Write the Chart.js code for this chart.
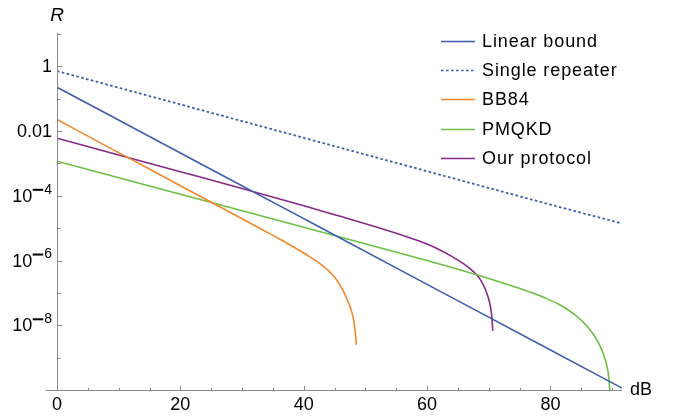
<!DOCTYPE html>
<html>
<head>
<meta charset="utf-8">
<script src="https://cdn.jsdelivr.net/npm/chart.js@4/dist/chart.umd.min.js"></script>
<style>
html,body{margin:0;padding:0;background:#fff;}
#c{display:block;}
</style>
</head>
<body>
<canvas id="c" width="678" height="418"></canvas>
<script>
// ---- data ----
const seriesLabels = ['Linear bound', 'Single repeater', 'BB84', 'PMQKD', 'Our protocol'];

const linearDb   = [0, 20, 40, 60, 80, 91.6];
const linearRate = [0.226, 2.11e-3, 1.97e-5, 1.84e-7, 1.72e-9, 1.15e-10];

const repeaterDb   = [0, 20, 40, 60, 80, 91.6];
const repeaterRate = [0.718, 0.0667, 6.19e-3, 5.75e-4, 5.35e-5, 1.4e-5];

const bb84Db   = [0, 10, 20, 30, 33, 36, 38, 40, 41, 42, 43, 44, 45, 45.5, 46, 46.5, 47, 47.5, 47.8, 48, 48.2, 48.35, 48.45, 48.52];
const bb84Rate = [0.0227, 2.16e-3, 2.05e-4, 1.95e-5, 9.62e-6, 4.70e-6, 2.86e-6, 1.71e-6, 1.30e-6, 9.75e-7, 7.10e-7, 4.89e-7, 3.07e-7, 2.27e-7, 1.60e-7, 1.057e-7, 6.50e-8, 3.72e-8, 2.52e-8, 1.78e-8, 1.07e-8, 6.38e-9, 3.93e-9, 2.49e-9];

const pmqkdDb   = [0, 20, 40, 60, 65, 70, 74, 77, 79.5, 81.5, 83, 84.5, 85.5, 86.5, 87.5, 88.2, 88.8, 89.2, 89.45, 89.62];
const pmqkdRate = [1.175e-3, 1.12e-4, 1.07e-5, 1.0e-6, 5.37e-7, 2.79e-7, 1.585e-7, 1.007e-7, 6.54e-8, 4.30e-8, 2.86e-8, 1.74e-8, 1.147e-8, 6.89e-9, 3.61e-9, 1.96e-9, 9.8e-10, 5.0e-10, 2.56e-10, 1.0e-10];

const oursDb   = [0, 10, 20, 30, 40, 45, 50, 55, 58, 60, 62, 64, 66, 67.5, 68.5, 69.3, 69.9, 70.3, 70.5, 70.65];
const oursRate = [6.03e-3, 1.83e-3, 5.57e-4, 1.69e-4, 4.92e-5, 2.62e-5, 1.38e-5, 7.02e-6, 4.48e-6, 3.22e-6, 2.16e-6, 1.35e-6, 7.72e-7, 4.57e-7, 2.81e-7, 1.50e-7, 7.35e-8, 3.51e-8, 1.80e-8, 6.72e-9];

const xTickValues = [0, 5, 10, 15, 20, 25, 30, 35, 40, 45, 50, 55, 60, 65, 70, 75, 80, 85, 90];
const xTickLabels = ['0', '', '', '', '20', '', '', '', '40', '', '', '', '60', '', '', '', '80', '', ''];
const yTickValues = [10, 1, 0.1, 0.01, 1e-3, 1e-4, 1e-5, 1e-6, 1e-7, 1e-8, 1e-9];
const yTickLabels = ['', '1', '', '0.01', '', '10\u207B\u2074', '', '10\u207B\u2076', '', '10\u207B\u2078', ''];

const colors = ['#3F5DAE', '#3F5DAE', '#F4872C', '#6DBE45', '#86298B'];
const dashes = [[], [2.6, 2.4], [], [], []];

const pts = (xs, ys) => xs.map((x, i) => ({x: x, y: ys[i]}));
const allData = [pts(linearDb, linearRate), pts(repeaterDb, repeaterRate), pts(bb84Db, bb84Rate), pts(pmqkdDb, pmqkdRate), pts(oursDb, oursRate)];

const FONT = '"Liberation Sans", Arial, sans-serif';
const SUP = {'\u207B': '\u2212', '\u2070': '0', '\u00B9': '1', '\u00B2': '2', '\u00B3': '3', '\u2074': '4', '\u2075': '5', '\u2076': '6', '\u2077': '7', '\u2078': '8', '\u2079': '9'};

const decor = {
  id: 'decor',
  afterDraw(chart) {
    const ctx = chart.ctx;
    const xs = chart.scales.x, ys = chart.scales.y;
    const left = Math.round(xs.getPixelForValue(0)) + 0.5;
    const bottom = Math.round(ys.getPixelForValue(1e-10)) + 0.5;
    const top = ys.getPixelForValue(10) - 1;
    const right = xs.getPixelForValue(91.6);
    ctx.save();
    ctx.strokeStyle = '#8a8a8a';
    ctx.lineWidth = 1;
    ctx.beginPath();
    ctx.moveTo(left, top); ctx.lineTo(left, bottom);
    ctx.moveTo(left - 12, bottom); ctx.lineTo(right, bottom);
    xTickValues.forEach((v, i) => {
      if (v === 0) return;
      const px = Math.round(xs.getPixelForValue(v)) + 0.5;
      const len = xTickLabels[i] !== '' ? 4.5 : 2.5;
      ctx.moveTo(px, bottom); ctx.lineTo(px, bottom - len);
    });
    yTickValues.forEach((v, i) => {
      const py = Math.round(ys.getPixelForValue(v)) + 0.5;
      const len = yTickLabels[i] !== '' ? 5 : 3;
      ctx.moveTo(left, py); ctx.lineTo(left + len, py);
    });
    ctx.stroke();

    // y tick labels (with raised exponents)
    ctx.fillStyle = '#000';
    ctx.textBaseline = 'middle';
    yTickValues.forEach((v, i) => {
      const lab = yTickLabels[i];
      if (!lab) return;
      const py = ys.getPixelForValue(v);
      const xr = 52;
      let base = '', exp = '';
      for (const ch of lab) { if (SUP[ch]) exp += SUP[ch]; else base += ch; }
      if (!exp) {
        ctx.font = '18px ' + FONT; ctx.textAlign = 'right';
        ctx.fillText(base, xr, py + 1);
      } else {
        ctx.font = '14px ' + FONT; ctx.textAlign = 'right';
        const digits = exp.replace('\u2212', '');
        ctx.fillText(digits, xr, py - 6);
        const dw = ctx.measureText(digits).width;
        ctx.fillRect(xr - dw - 11.5, py - 7, 10.5, 2);
        ctx.font = '18px ' + FONT;
        ctx.fillText(base, xr - dw - 12, py + 1);
      }
    });

    // axis labels
    ctx.font = 'italic 19px ' + FONT;
    ctx.textAlign = 'center'; ctx.textBaseline = 'middle';
    ctx.fillText('R', 57, 15.5);
    ctx.font = '18px ' + FONT;
    ctx.textAlign = 'left';
    ctx.fillText('dB', 630, 390);

    // legend
    ctx.font = '18px ' + FONT;
    try { ctx.letterSpacing = '0.9px'; } catch (e) {}
    chart.data.datasets.forEach((ds, i) => {
      const y = 41 + i * 29.2;
      ctx.strokeStyle = ds.borderColor;
      ctx.lineWidth = 1.6;
      ctx.setLineDash(ds.borderDash || []);
      ctx.beginPath();
      ctx.moveTo(441, Math.round(y) + 0.5); ctx.lineTo(475, Math.round(y) + 0.5);
      ctx.stroke();
      ctx.setLineDash([]);
      ctx.fillStyle = '#000';
      ctx.textAlign = 'left'; ctx.textBaseline = 'middle';
      ctx.fillText(ds.label, 482, y + 1);
    });
    ctx.restore();
  }
};

new Chart(document.getElementById('c'), {
  type: 'line',
  data: {
    datasets: seriesLabels.map((lab, i) => ({
      label: lab,
      data: allData[i],
      borderColor: colors[i],
      borderDash: dashes[i],
      borderWidth: i === 1 ? 1.8 : 1.6,
      pointRadius: 0,
      fill: false,
      cubicInterpolationMode: 'monotone'
    }))
  },
  options: {
    responsive: false,
    animation: false,
    layout: { padding: { left: 0, top: 34, right: 56, bottom: 0 } },
    plugins: { legend: { display: false }, tooltip: { enabled: false } },
    scales: {
      x: {
        type: 'linear', min: 0, max: 91.6,
        grid: { display: false, drawTicks: false },
        border: { display: false },
        afterBuildTicks: (s) => { s.ticks = xTickValues.map(v => ({value: v})); },
        afterFit: (s) => { s.height = 28; },
        ticks: {
          autoSkip: false, maxRotation: 0, padding: 4, color: '#000',
          font: { family: FONT, size: 18 },
          callback: (v) => { const i = xTickValues.indexOf(v); return i >= 0 ? xTickLabels[i] : ''; }
        }
      },
      y: {
        type: 'logarithmic', min: 1e-10, max: 10,
        grid: { display: false, drawTicks: false },
        border: { display: false },
        afterBuildTicks: (s) => { s.ticks = yTickValues.map(v => ({value: v})); },
        afterFit: (s) => { s.width = 57; },
        ticks: {
          display: false, autoSkip: false, padding: 5,
          callback: (v) => {
            const i = yTickValues.findIndex(t => Math.abs(Math.log10(t) - Math.log10(v)) < 1e-6);
            return i >= 0 ? yTickLabels[i] : '';
          }
        }
      }
    }
  },
  plugins: [decor]
});
</script>
</body>
</html>
